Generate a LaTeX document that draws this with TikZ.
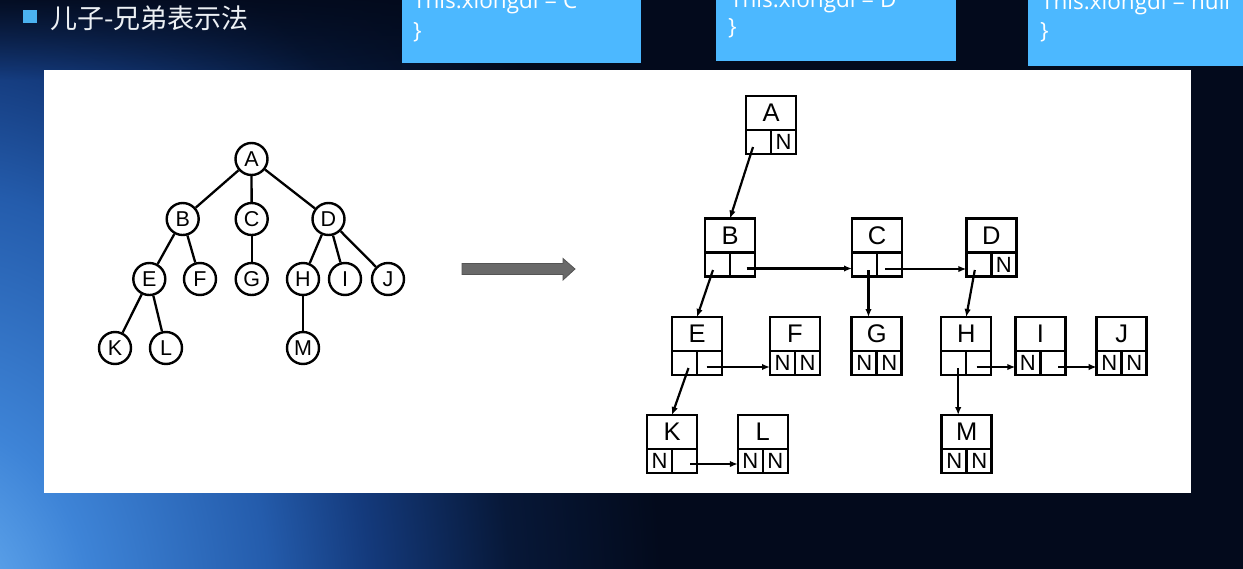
\documentclass[tikz,border=0pt]{standalone}
\usepackage{fontspec}
\setmainfont{Liberation Sans}
\newfontfamily\cjkfont{Noto Sans CJK SC}
\newfontfamily\codefont{Open Sans}
\usetikzlibrary{arrows.meta,calc,fadings}

\definecolor{gl0}{RGB}{110,180,245}
\definecolor{gl1}{RGB}{62,132,215}
\definecolor{gl2}{RGB}{36,92,172}
\definecolor{gl3}{RGB}{20,58,124}
\definecolor{gl4}{RGB}{7,24,56}
\definecolor{gl5}{RGB}{3,10,28}
\definecolor{codeblue}{RGB}{76,184,255}
\definecolor{titlesq}{RGB}{75,178,240}
\definecolor{titletxt}{RGB}{236,240,244}
\definecolor{arrowgrey}{RGB}{105,105,105}

\pgfdeclareradialshading{bgglow}{\pgfpoint{0bp}{0bp}}{color(0bp)=(gl0); color(2.7bp)=(gl1); color(5.9bp)=(gl2); color(7.7bp)=(gl3); color(10.2bp)=(gl4); color(12.9bp)=(gl5); color(50bp)=(gl5)}
\tikzfading[name=topdark, top color=transparent!0, bottom color=transparent!100]

\tikzset{
  tnode/.style={circle, draw=black, line width=2.4pt, minimum size=32pt, inner sep=0pt, fill=white, font=\fontsize{21.5}{21.5}\selectfont},
  tedge/.style={line width=2.3pt, black},
  rtop/.style={draw=black, line width=2.5pt, minimum width=50pt, minimum height=34pt, inner sep=0pt, outer sep=0pt, font=\fontsize{25.5}{25.5}\selectfont},
  rcell/.style={draw=black, line width=2.5pt, minimum width=25pt, minimum height=24pt, inner sep=0pt, outer sep=0pt, font=\fontsize{22}{22}\selectfont},
  ptr/.style={line width=2.2pt, black, -{Latex[length=8pt,width=6.5pt]}},
  codetxt/.style={text=white, font=\codefont\fontsize{22.5}{22.5}\selectfont, inner sep=0pt, anchor=base west}
}

\newcommand\recbox[6]{%
  \node[rtop] (#1) at (#2,#3+17) {#4};
  \node[rcell, anchor=north east] (#1-l) at (#1.south) {#5};
  \node[rcell, anchor=north west] (#1-r) at (#1.south) {#6};
}

\begin{document}
\begin{tikzpicture}[x=1pt,y=-1pt]
\useasboundingbox (0,0) rectangle (1243,568);
% background
\begin{scope}
  \clip (0,0) rectangle (1243,568);
  \fill[gl5] (0,0) rectangle (1243,568);
  \shade[shading=bgglow] (-1460,-1200) rectangle (1340,2440);
  \fill[gl5, path fading=topdark] (0,-10) rectangle (402,80);
\end{scope}

% title
\fill[titlesq] (23,10) rectangle (37,23);
\node[anchor=west, text=titletxt, inner sep=0pt, font=\cjkfont\fontsize{27}{27}\selectfont] (title) at (50,18) {儿子-兄弟表示法};

% code boxes at top (cut off by the top edge)
\fill[codeblue] (402,-5) rectangle (641,63);
\fill[codeblue] (716,-5) rectangle (956,61);
\fill[codeblue] (1028,-5) rectangle (1250,66);
\node[codetxt] (code1) at (413,8) {This.xiongdi = C};
\node[codetxt] (brace1) at (413,38) {\}};
\node[codetxt] (code2) at (730,7) {This.xiongdi = D};
\node[codetxt] (brace2) at (728,34) {\}};
\node[codetxt] (code3) at (1041,9) {This.xiongdi = null};
\node[codetxt] (brace3) at (1040,38) {\}};

% white panel
\fill[white] (44,70) rectangle (1191,493);

% left tree
\node[tnode] (tA) at (251.5,159) {A};
\node[tnode] (tB) at (182.7,219) {B};
\node[tnode] (tC) at (251.7,219) {C};
\node[tnode] (tD) at (328.5,219) {D};
\node[tnode] (tE) at (149.3,279) {E};
\node[tnode] (tF) at (200,279) {F};
\node[tnode] (tG) at (251.7,279) {G};
\node[tnode] (tH) at (303,279) {H};
\node[tnode] (tI) at (345,279) {I};
\node[tnode] (tJ) at (388,279) {J};
\node[tnode] (tK) at (115,348) {K};
\node[tnode] (tL) at (166,348) {L};
\node[tnode] (tM) at (303,348) {M};
\foreach \a/\b in {A/B,A/C,A/D,B/E,B/F,C/G,D/H,D/I,D/J,E/K,E/L,H/M}
  \draw[tedge] (t\a) -- (t\b);

% middle arrow
\filldraw[fill=arrowgrey, draw=arrowgrey!80!black, line width=0.8pt]
  (462,263.5) -- (563,263.5) -- (563,258.5) -- (575,269) -- (563,280) -- (563,274.5) -- (462,274.5) -- cycle;

% child-sibling records
\recbox{rA}{771}{96}{A}{}{N}
\recbox{rB}{730}{218.5}{B}{}{}
\recbox{rC}{877}{218.5}{C}{}{}
\recbox{rD}{991.3}{218.5}{D}{}{N}
\recbox{rE}{697}{317}{E}{}{}
\recbox{rF}{795}{317}{F}{N}{N}
\recbox{rG}{876.7}{317}{G}{N}{N}
\recbox{rH}{966.2}{317}{H}{}{}
\recbox{rI}{1040.3}{317}{I}{N}{}
\recbox{rJ}{1121.7}{317}{J}{N}{N}
\recbox{rK}{672}{415}{K}{N}{}
\recbox{rL}{762.8}{415}{L}{N}{N}
\recbox{rM}{966.7}{415}{M}{N}{N}

% child pointers
\draw[ptr] ([xshift=-5.5pt,yshift=-5pt]rA-l.center) -- (rB.north);
\draw[ptr] ([xshift=-4.5pt,yshift=-5.5pt]rB-l.center) -- (rE.north);
\draw[ptr] ([xshift=4pt,yshift=-5pt]rE-l.center) -- (rK.north);
\coordinate (cg) at ([xshift=4pt,yshift=-5.5pt]rC-l.center);
\draw[ptr] (cg) -- (cg |- rG.north);
\draw[ptr] ([xshift=-4pt,yshift=-5.5pt]rD-l.center) -- (rH.north);
\coordinate (hm) at ([xshift=4.5pt,yshift=-5pt]rH-l.center);
\draw[ptr] (hm) -- (hm |- rM.north);

% sibling pointers
\coordinate (bc) at ([xshift=4pt,yshift=-4pt]rB-r.center);
\draw[ptr] (bc) -- (bc -| rC-l.west);
\coordinate (cd) at ([xshift=-4.5pt,yshift=-4.5pt]rC-r.center);
\draw[ptr] (cd) -- (cd -| rD-l.west);
\coordinate (ef) at ([xshift=-3pt,yshift=-4pt]rE-r.center);
\draw[ptr] (ef) -- (ef -| rF-l.west);
\coordinate (hi) at ([xshift=-2pt,yshift=-4pt]rH-r.center);
\draw[ptr] (hi) -- (hi -| rI-l.west);
\coordinate (ij) at ([xshift=5.5pt,yshift=-4pt]rI-r.center);
\draw[ptr] (ij) -- (ij -| rJ-l.west);
\coordinate (kl) at ([xshift=5.5pt,yshift=-3pt]rK-r.center);
\draw[ptr] (kl) -- (kl -| rL-l.west);
\end{tikzpicture}
\end{document}
